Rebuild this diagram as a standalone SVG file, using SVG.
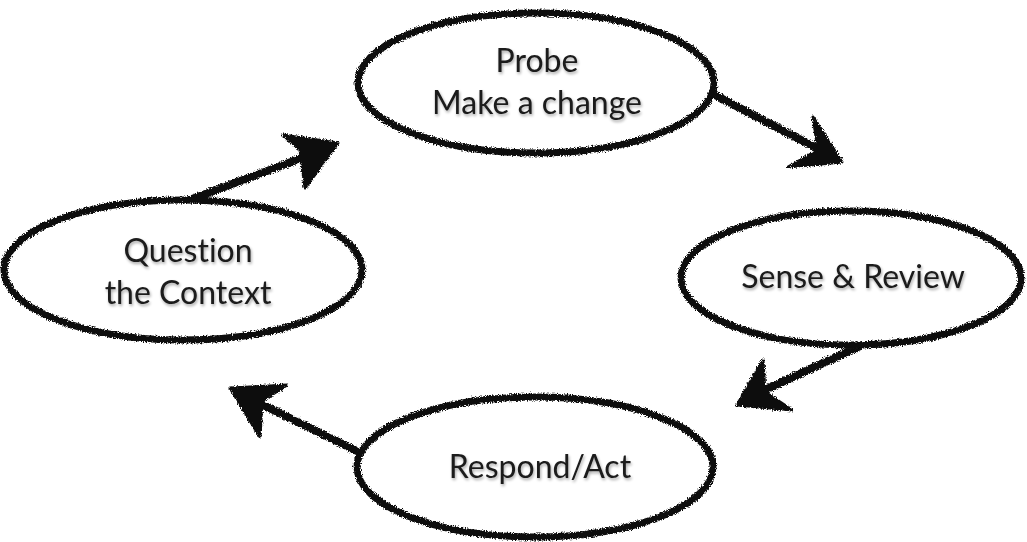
<svg xmlns="http://www.w3.org/2000/svg" width="1027" height="542" viewBox="0 0 1027 542">
<defs>
<filter id="rough" x="-10%" y="-10%" width="120%" height="120%">
<feTurbulence type="fractalNoise" baseFrequency="0.8" numOctaves="2" seed="3" result="n"/>
<feDisplacementMap in="SourceGraphic" in2="n" scale="5" xChannelSelector="R" yChannelSelector="G"/>
</filter>
<filter id="soft" x="-10%" y="-20%" width="120%" height="140%">
<feGaussianBlur in="SourceAlpha" stdDeviation="1.5" result="b"/>
<feOffset dx="1" dy="2" in="b" result="o"/>
<feComponentTransfer in="o" result="s"><feFuncA type="linear" slope="0.35"/></feComponentTransfer>
<feMerge><feMergeNode in="s"/><feMergeNode in="SourceGraphic"/></feMerge>
</filter>
</defs>
<style>
.node ellipse{fill:#fff;stroke:#111;stroke-width:7;filter:url(#rough)}
.lbl{font-family:"Lato","Open Sans",sans-serif;font-size:32px;fill:#1a1a1a;text-anchor:middle;font-variant-ligatures:none;filter:url(#soft)}
.conn path{fill:none;stroke:#111;stroke-width:8;stroke-linecap:round;stroke-linejoin:round}
.conn polygon{fill:#111;stroke:#111;stroke-width:3;stroke-linejoin:round}
.conn{filter:url(#rough)}
</style>
<rect width="1027" height="542" fill="#fff"/>
<g class="conn" id="connectors">
<path d="M192,199 L318,152"/>
<polygon points="338,143 283,135 300,150 305,188"/>
<path d="M715,95 L828,154"/>
<polygon points="842,162 813,117 818,150 788,167"/>
<path d="M860,346 L752,396"/>
<polygon points="737,405 763,360 765,392 792,410"/>
<path d="M365,455 L245,396"/>
<polygon points="230,388 287,385 262,401 260,437"/>
</g>
<g class="node" id="probe">
<ellipse cx="536" cy="83" rx="178" ry="70"/>
<text class="lbl" x="537" y="72">Probe</text>
<text class="lbl" x="537" y="114">Make a change</text>
</g>
<g class="node" id="question">
<ellipse cx="183" cy="270" rx="179" ry="70"/>
<text class="lbl" x="188" y="262">Question</text>
<text class="lbl" x="188" y="304">the Context</text>
</g>
<g class="node" id="sense">
<ellipse cx="851" cy="278" rx="170" ry="67"/>
<text class="lbl" x="853" y="288">Sense &amp; Review</text>
</g>
<g class="node" id="respond">
<ellipse cx="535" cy="467" rx="178" ry="70"/>
<text class="lbl" x="540" y="478">Respond/Act</text>
</g>
</svg>
